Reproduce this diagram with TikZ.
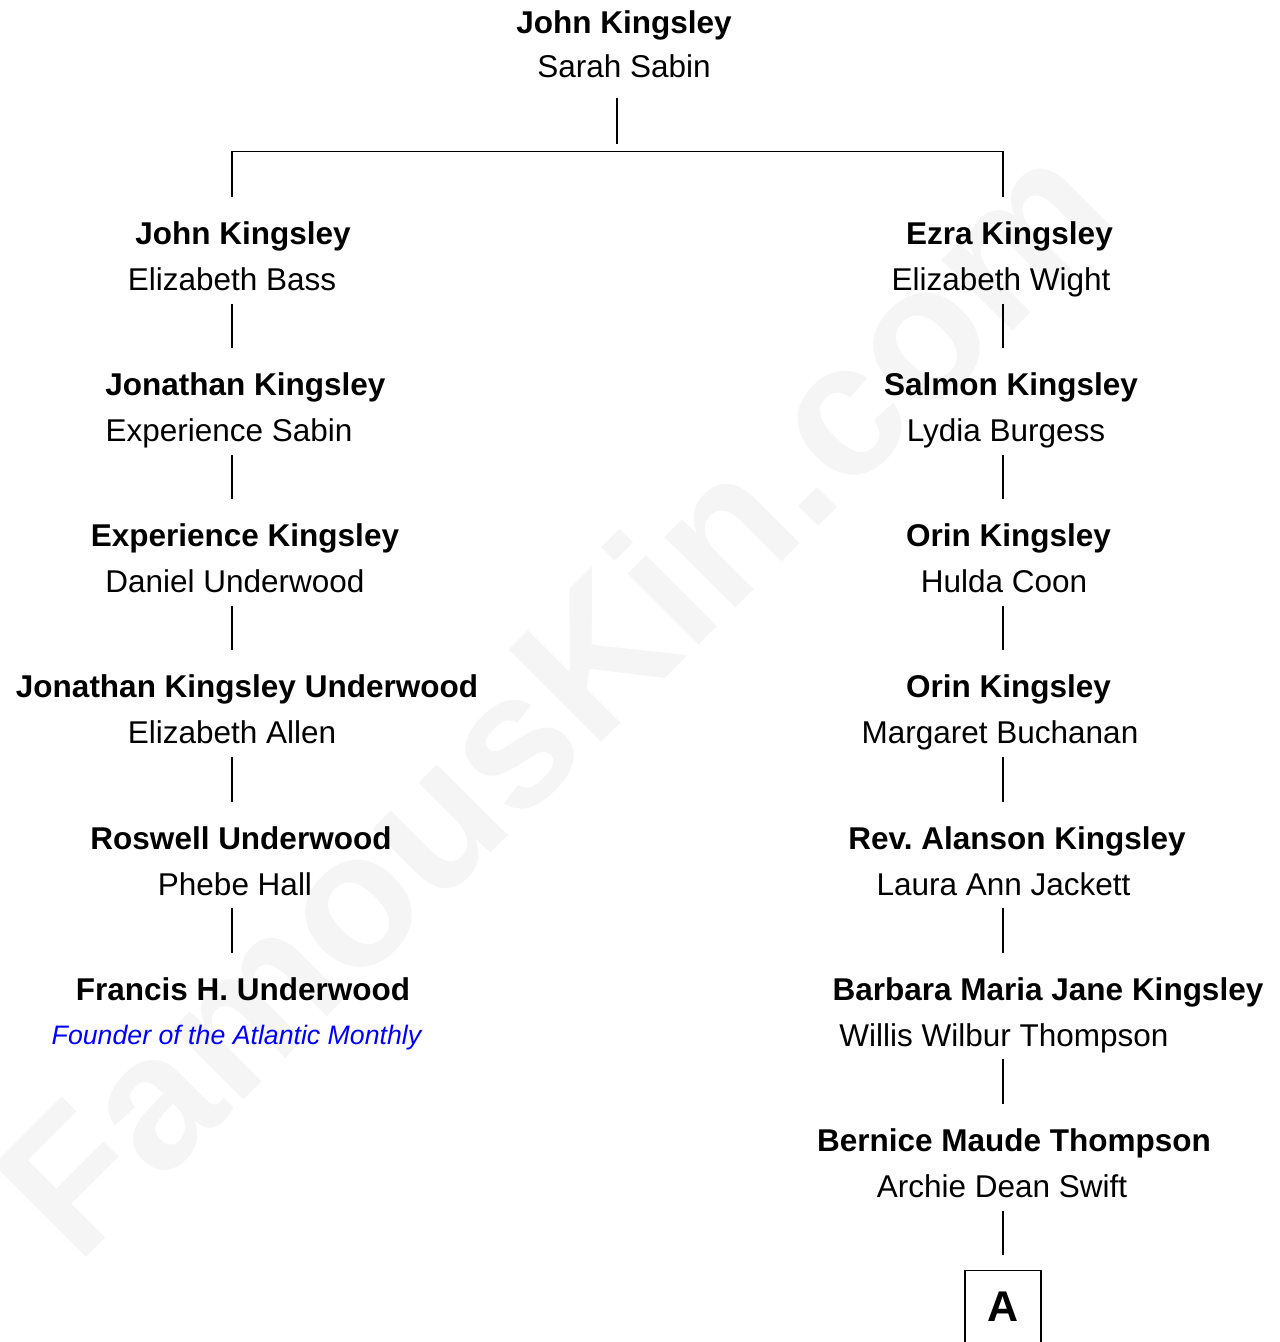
\documentclass[tikz,border=0pt]{standalone}
\usepackage{fontspec}
\setmainfont{Liberation Sans}
\usepackage{tikz}
\usetikzlibrary{positioning}
\frenchspacing

\begin{document}
\begin{tikzpicture}[
    x=1pt, y=-1pt,
    person/.style={rectangle, draw=none, anchor=base, inner xsep=0pt, inner ysep=24.7pt,
        text height=22.6pt, text depth=0pt, font=\fontsize{31.5}{36}\selectfont\bfseries},
    spouse/.style={rectangle, draw=none, anchor=base, inner xsep=0pt, inner ysep=13pt,
        text height=22.6pt, text depth=0pt, font=\fontsize{31.5}{36}\selectfont},
    note/.style={spouse, text=blue, font=\fontsize{26.7}{32}\selectfont\itshape},
    letterbox/.style={rectangle, draw, line width=1.3pt, anchor=north, inner sep=0pt,
        minimum width=76pt, minimum height=80pt, text height=30.8pt, text depth=10pt,
        font=\fontsize{43}{48}\selectfont\bfseries},
    watermark/.style={text=black!4, rotate=45, inner sep=0pt, text height=136pt, text depth=0pt,
        font=\fontsize{190}{200}\selectfont\bfseries},
    link/.style={line width=1.3pt}
    ]
    \useasboundingbox (0,0) rectangle (1280,1342);
    \node (Mark) [watermark] at (552,696) {FamousKin.com};

    \coordinate (ColL) at (232,0);
    \coordinate (ColR) at (1003,0);

    % top couple
    \node (Root) [person] at (624,33) {John Kingsley};
    \node (RootSp) [spouse, inner ysep=20pt] at (624,77.3) {Sarah Sabin};

    % left branch
    \node (Left01) [person] at (243,244.3) {John Kingsley};
    \node (LeftSp01) [spouse] at (232,290.3) {Elizabeth Bass};
    \node (Left02) [person] at (245.5,395.5) {Jonathan Kingsley};
    \node (LeftSp02) [spouse] at (229,441.5) {Experience Sabin};
    \node (Left03) [person] at (245,546.6) {Experience Kingsley};
    \node (LeftSp03) [spouse] at (235,592.6) {Daniel Underwood};
    \node (Left04) [person] at (247,697.8) {Jonathan Kingsley Underwood};
    \node (LeftSp04) [spouse] at (232,743.8) {Elizabeth Allen};
    \node (Left05) [person] at (241,849) {Roswell Underwood};
    \node (LeftSp05) [spouse] at (235,895) {Phebe Hall};
    \node (Left06) [person] at (243,1000.1) {Francis H. Underwood};
    \node (LeftNote06) [note] at (236.5,1044) {Founder of the Atlantic Monthly};

    % right branch
    \node (Right01) [person] at (1009.5,244.3) {Ezra Kingsley};
    \node (RightSp01) [spouse] at (1001,290.3) {Elizabeth Wight};
    \node (Right02) [person] at (1011,395.5) {Salmon Kingsley};
    \node (RightSp02) [spouse] at (1006,441.5) {Lydia Burgess};
    \node (Right03) [person] at (1008.5,546.6) {Orin Kingsley};
    \node (RightSp03) [spouse] at (1004,592.6) {Hulda Coon};
    \node (Right04) [person] at (1008.5,697.8) {Orin Kingsley};
    \node (RightSp04) [spouse] at (1000,743.8) {Margaret Buchanan};
    \node (Right05) [person] at (1017,849) {Rev. Alanson Kingsley};
    \node (RightSp05) [spouse] at (1003.5,895) {Laura Ann Jackett};
    \node (Right06) [person] at (1048,1000.1) {Barbara Maria Jane Kingsley};
    \node (RightSp06) [spouse] at (1004,1046.1) {Willis Wilbur Thompson};
    \node (Right07) [person] at (1014,1151.3) {Bernice Maude Thompson};
    \node (RightSp07) [spouse] at (1002,1197.3) {Archie Dean Swift};
    \node (BoxA) [letterbox] at (1003,1270) {A};

    % fork under the top couple
    \coordinate (ForkTop) at (617,144);
    \coordinate (BarL) at (232,151.7);
    \coordinate (BarR) at (1003,151.7);
    \draw[link] (RootSp.south -| ForkTop) -- (ForkTop);
    \draw[link] (Left01.north -| BarL) -- (BarL) -- (BarR) -- (Right01.north -| BarR);

    % descent lines
    \foreach \a/\b in {LeftSp01/Left02, LeftSp02/Left03, LeftSp03/Left04, LeftSp04/Left05, LeftSp05/Left06}
        \draw[link] (\a.south -| ColL) -- (\b.north -| ColL);
    \foreach \a/\b in {RightSp01/Right02, RightSp02/Right03, RightSp03/Right04, RightSp04/Right05,
        RightSp05/Right06, RightSp06/Right07}
        \draw[link] (\a.south -| ColR) -- (\b.north -| ColR);
    \draw[link, shorten >=15pt] (RightSp07.south -| ColR) -- (BoxA.north);
\end{tikzpicture}
\end{document}
